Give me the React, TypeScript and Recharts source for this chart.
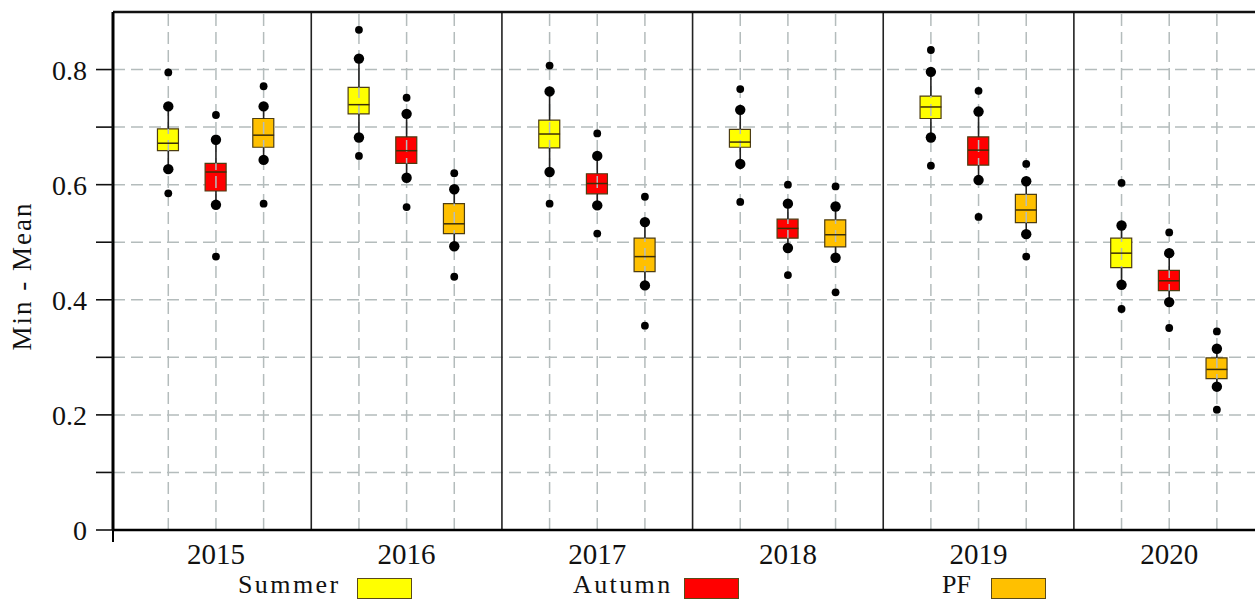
import { ComposedChart, XAxis, YAxis, CartesianGrid, Bar, Cell, Scatter, ErrorBar, ReferenceLine, Legend } from 'recharts'

const years = ['2015', '2016', '2017', '2018', '2019', '2020']
const seasons = ['Summer', 'Autumn', 'PF']

// each row is one year: [Summer, Autumn, PF]
const minOut = [
  [0.585, 0.475, 0.567],
  [0.65, 0.561, 0.44],
  [0.567, 0.515, 0.355],
  [0.57, 0.443, 0.413],
  [0.633, 0.544, 0.475],
  [0.384, 0.351, 0.209],
]
const loWhisk = [
  [0.627, 0.565, 0.643],
  [0.682, 0.612, 0.493],
  [0.622, 0.564, 0.425],
  [0.636, 0.49, 0.473],
  [0.682, 0.608, 0.514],
  [0.426, 0.396, 0.249],
]
const q1 = [
  [0.659, 0.589, 0.665],
  [0.723, 0.637, 0.515],
  [0.664, 0.584, 0.449],
  [0.665, 0.507, 0.492],
  [0.715, 0.634, 0.534],
  [0.456, 0.416, 0.263],
]
const median = [
  [0.672, 0.622, 0.686],
  [0.739, 0.659, 0.532],
  [0.688, 0.602, 0.475],
  [0.674, 0.524, 0.513],
  [0.735, 0.66, 0.556],
  [0.481, 0.433, 0.279],
]
const q3 = [
  [0.697, 0.637, 0.715],
  [0.769, 0.683, 0.567],
  [0.712, 0.619, 0.507],
  [0.696, 0.54, 0.539],
  [0.754, 0.683, 0.583],
  [0.507, 0.451, 0.299],
]
const hiWhisk = [
  [0.736, 0.678, 0.736],
  [0.819, 0.723, 0.592],
  [0.762, 0.65, 0.535],
  [0.73, 0.567, 0.562],
  [0.796, 0.727, 0.606],
  [0.529, 0.481, 0.315],
]
const maxOut = [
  [0.795, 0.721, 0.771],
  [0.869, 0.751, 0.62],
  [0.807, 0.689, 0.579],
  [0.766, 0.6, 0.597],
  [0.834, 0.763, 0.636],
  [0.603, 0.517, 0.345],
]

const yTicks = [0, 0.1, 0.2, 0.3, 0.4, 0.5, 0.6, 0.7, 0.8]

const seasonColor: Record<string, string> = { Summer: '#FFFF00', Autumn: '#FF0000', PF: '#FFC000' }
const step = 0.25 // season spacing inside a year group
const xMin = -0.54
const xMax = 5.45
const font = '"Liberation Serif", "Times New Roman", serif'
const gridColor = '#b4bcbc'

const rows = years.flatMap((yr, i) =>
  seasons.map((s, j) => ({
    x: i + (j - 1) * step,
    year: yr,
    season: s,
    min: minOut[i][j],
    lo: loWhisk[i][j],
    q1: q1[i][j],
    median: median[i][j],
    q3: q3[i][j],
    hi: hiWhisk[i][j],
    max: maxOut[i][j],
  }))
)

const BigDot = (p: any) => <circle cx={p.cx} cy={p.cy} r={5.2} fill="#000" />
const SmallDot = (p: any) => <circle cx={p.cx} cy={p.cy} r={3.9} fill="#000" />
const Nothing = () => <g />
const MedianLine = (p: any) => (
  <line x1={p.cx - 10.5} x2={p.cx + 10.5} y1={p.cy} y2={p.cy} stroke="#3b2e08" strokeWidth={1.5} />
)

const XTick = (p: any) => {
  const { x, y, index, payload } = p
  if (index === 0) return <line x1={x} x2={x} y1={y} y2={y + 12} stroke="#000" strokeWidth={2} />
  return (
    <text x={x} y={y + 34} textAnchor="middle" fontFamily={font} fontSize={29} fill="#111">
      {years[payload.value]}
    </text>
  )
}

const YTick = (p: any) => {
  const { x, y, payload } = p
  const v = Math.round(payload.value * 10)
  if (v % 2 !== 0) return <g />
  return (
    <text x={x - 7} y={y + 10} textAnchor="end" fontFamily={font} fontSize={28} fill="#111">
      {v === 0 ? '0' : payload.value.toFixed(1)}
    </text>
  )
}

const YLabel = () => {
  const cx = 22
  const cy = 276
  return (
    <text
      x={cx}
      y={cy}
      transform={`rotate(-90, ${cx}, ${cy})`}
      textAnchor="middle"
      dominantBaseline="central"
      fontFamily={font}
      fontSize={27}
      letterSpacing={2}
      fill="#111"
    >
      Min - Mean
    </text>
  )
}

const legendText = [238, 573, 942]
const legendBox = [357, 684, 991]

const LegendRow = () => (
  <div style={{ position: 'relative', width: 1255, height: 33, fontFamily: font, fontSize: 26, color: '#111' }}>
    {seasons.map((s, i) => (
      <div key={s}>
        <span
          style={{
            position: 'absolute',
            left: legendText[i],
            top: 4,
            letterSpacing: s === 'PF' ? 0 : 2.4,
            lineHeight: '30px',
          }}
        >
          {s}
        </span>
        <span
          style={{
            position: 'absolute',
            left: legendBox[i],
            top: 12,
            width: 55,
            height: 21,
            background: seasonColor[s],
            border: '1px solid #5a4a18',
            boxSizing: 'border-box',
          }}
        />
      </div>
    ))}
  </div>
)

export default function App() {
  const gridX = years.flatMap((_, i) => seasons.map((_, j) => i + (j - 1) * step))
  const separators = years.slice(1).map((_, i) => i + 0.5)
  return (
    <div>
      <style>{'body{margin:0;overflow:hidden;background:#fff}'}</style>
      <ComposedChart width={1255} height={599} data={rows} margin={{ top: 12, right: 0, bottom: 0, left: 0 }}>
        <CartesianGrid vertical={false} stroke={gridColor} strokeWidth={1.5} strokeDasharray="12 6" />
        {gridX.map((gx) => (
          <ReferenceLine key={'g' + gx} x={gx} stroke={gridColor} strokeWidth={1.5} strokeDasharray="12 6" />
        ))}
        {separators.map((sx) => (
          <ReferenceLine key={'s' + sx} x={sx} stroke="#222" strokeWidth={1.6} />
        ))}
        <ReferenceLine y={0.9} stroke="#111" strokeWidth={2.5} />
        <XAxis
          dataKey="x"
          type="number"
          domain={[xMin, xMax]}
          ticks={[xMin, 0, 1, 2, 3, 4, 5]}
          interval={0}
          allowDataOverflow
          height={36}
          tickSize={0}
          tickMargin={0}
          tickLine={false}
          axisLine={{ stroke: '#000', strokeWidth: 2.5 }}
          tick={<XTick />}
        />
        <YAxis
          type="number"
          domain={[0, 0.9]}
          ticks={yTicks}
          interval={0}
          allowDataOverflow
          width={113}
          tickSize={17}
          tickLine={{ stroke: '#111', strokeWidth: 1.6 }}
          axisLine={{ stroke: '#000', strokeWidth: 3 }}
          tick={<YTick />}
          label={{ value: 'Min - Mean', content: <YLabel /> }}
        />
        <Legend verticalAlign="bottom" height={33} wrapperStyle={{ left: 0, bottom: 0 }} content={<LegendRow />} />
        <Scatter dataKey="q3" shape={<Nothing />} isAnimationActive={false}>
          <ErrorBar dataKey={(d: any) => [0, d.hi - d.q3]} direction="y" width={0} stroke="#222" strokeWidth={1.6} />
        </Scatter>
        <Scatter dataKey="q1" shape={<Nothing />} isAnimationActive={false}>
          <ErrorBar dataKey={(d: any) => [d.q1 - d.lo, 0]} direction="y" width={0} stroke="#222" strokeWidth={1.6} />
        </Scatter>
        <Bar dataKey={(d: any) => [d.q1, d.q3]} barSize={21} stroke="#4d3d12" strokeWidth={1.2} isAnimationActive={false}>
          {rows.map((r) => (
            <Cell key={r.year + r.season} fill={seasonColor[r.season]} />
          ))}
        </Bar>
        <Scatter dataKey="median" shape={<MedianLine />} isAnimationActive={false} />
        <Scatter dataKey="lo" shape={<BigDot />} isAnimationActive={false} />
        <Scatter dataKey="hi" shape={<BigDot />} isAnimationActive={false} />
        <Scatter dataKey="min" shape={<SmallDot />} isAnimationActive={false} />
        <Scatter dataKey="max" shape={<SmallDot />} isAnimationActive={false} />
      </ComposedChart>
    </div>
  )
}
